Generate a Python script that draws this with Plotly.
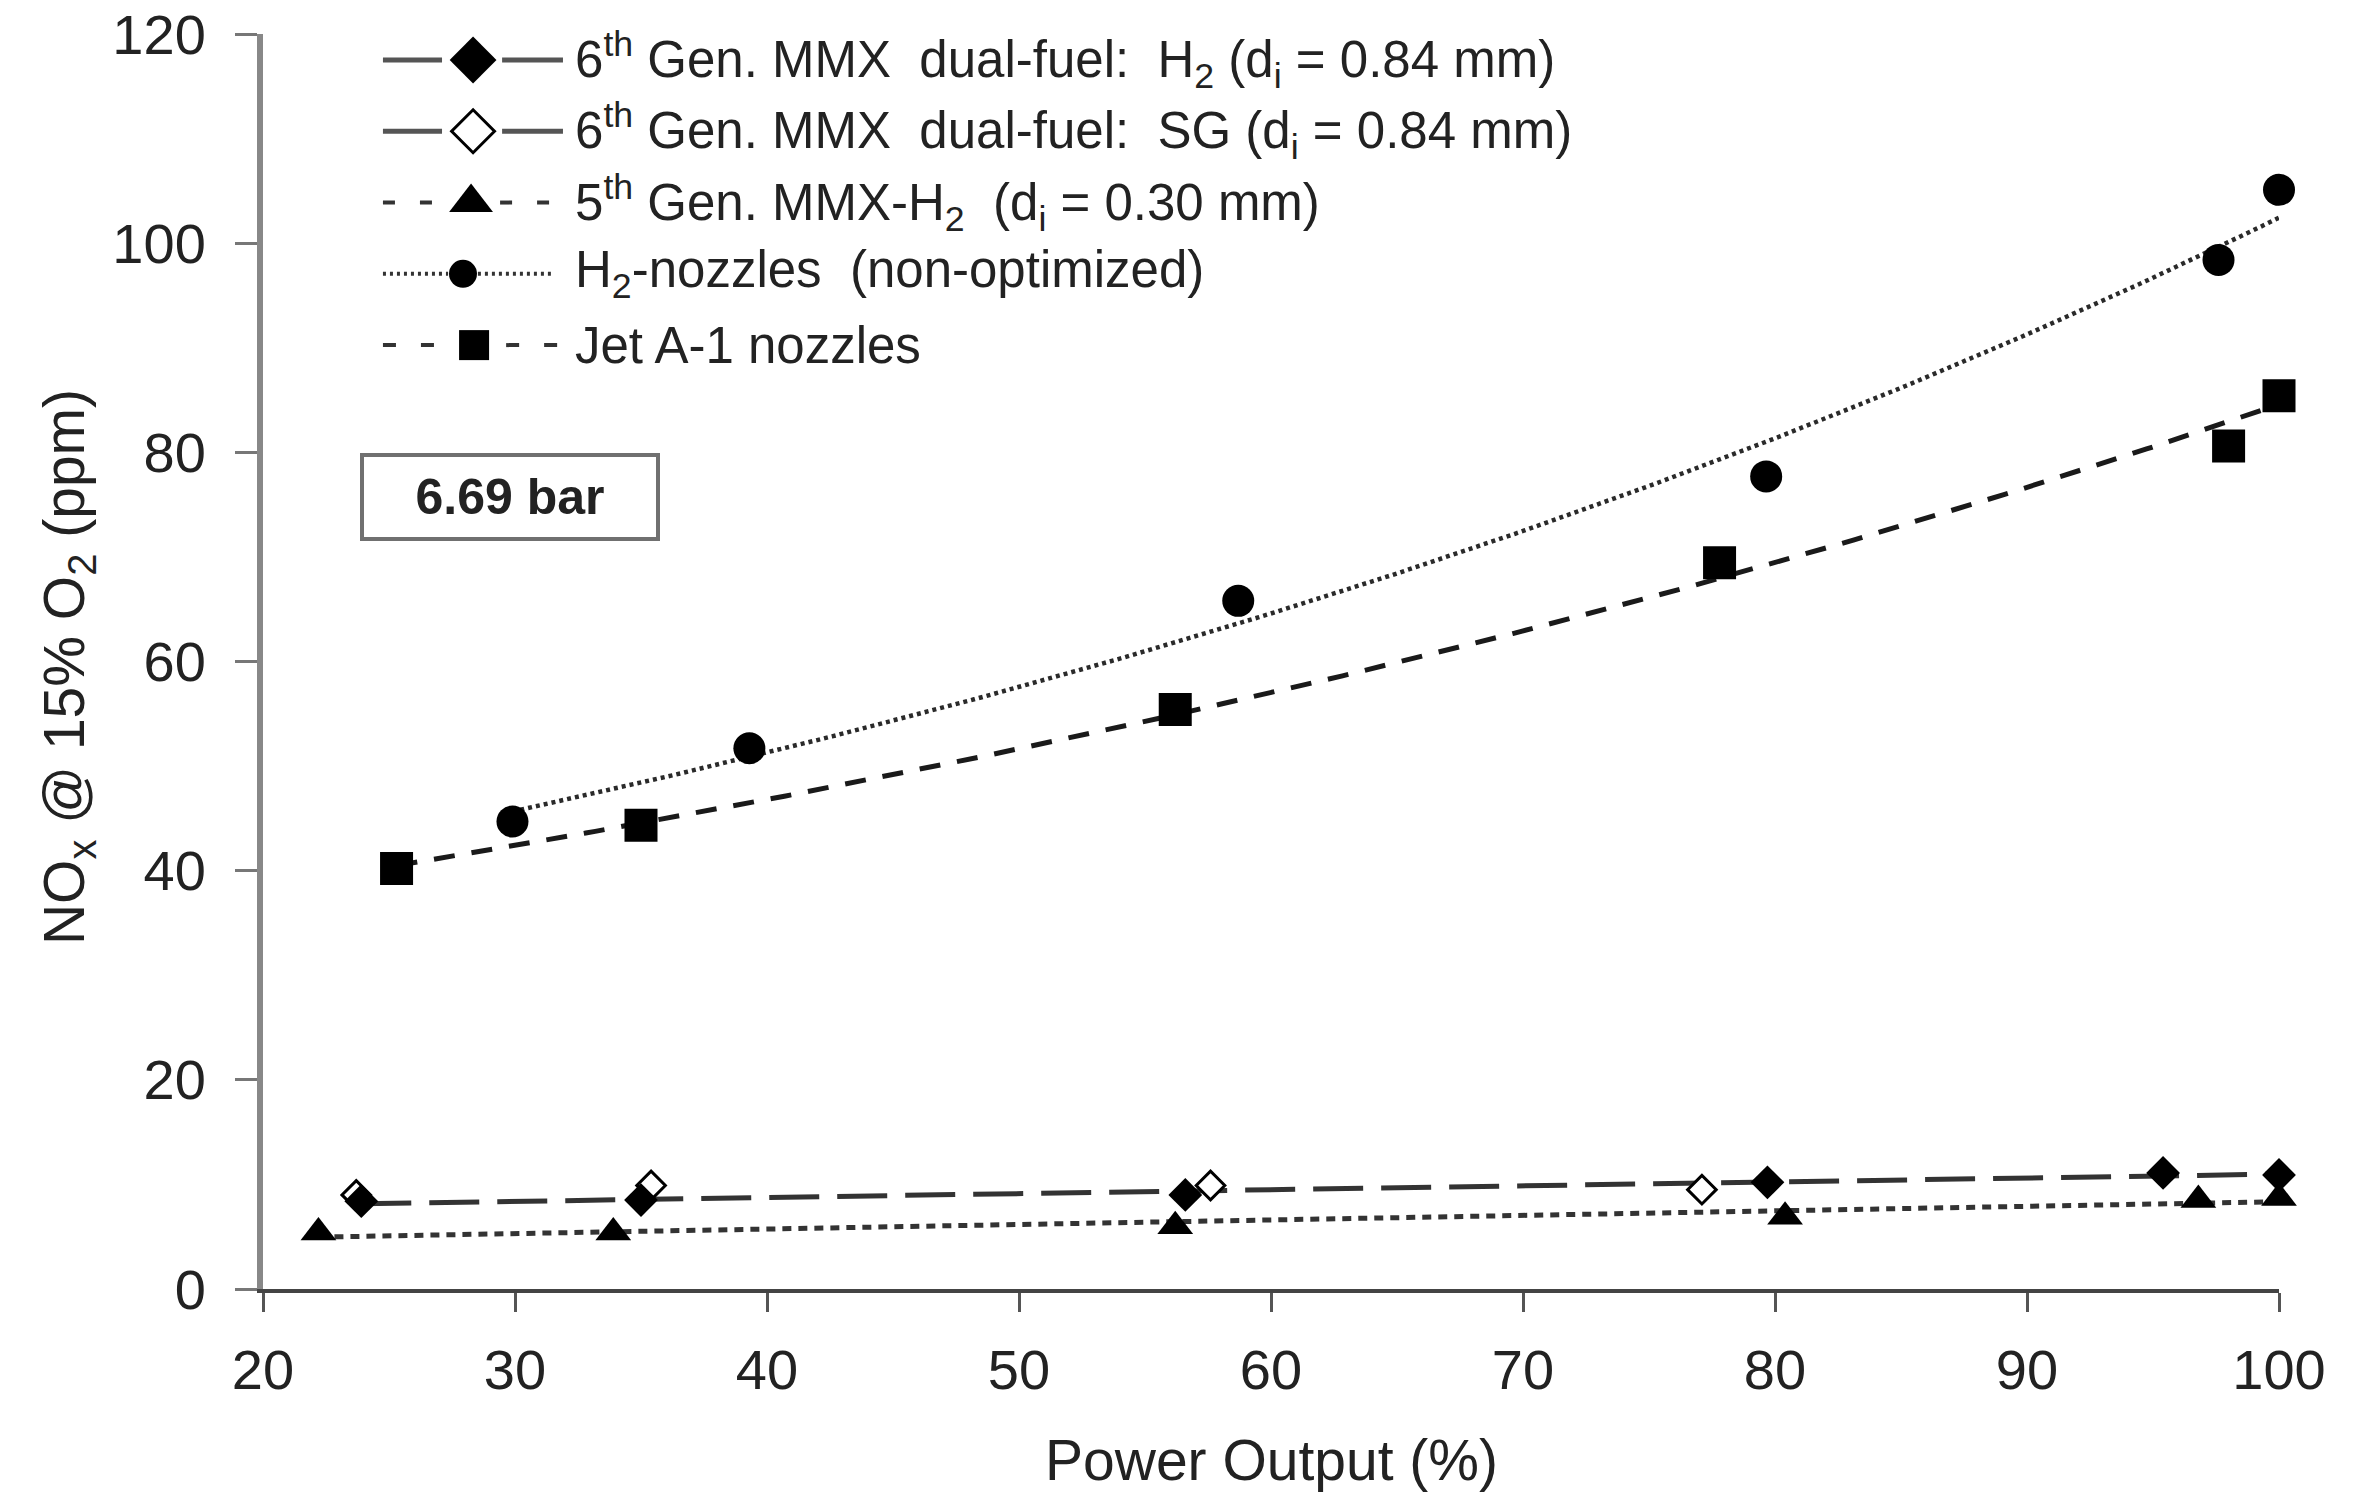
import numpy as np
import plotly.graph_objects as go

# ---- measured data: NOx @ 15% O2 (ppm) vs power output (%) ----
h2_dual_x = [23.9, 35.0, 56.6, 79.7, 95.4, 100.0]
h2_dual_y = [8.4, 8.5, 9.0, 10.2, 11.1, 10.9]

sg_dual_x = [23.7, 35.4, 57.6, 77.1]
sg_dual_y = [9.0, 9.9, 9.9, 9.5]

gen5_x = [22.2, 33.9, 56.2, 80.4, 96.8, 100.0]
gen5_y = [5.4, 5.4, 6.0, 6.9, 8.5, 8.7]

h2_nozzle_x = [29.9, 39.3, 58.7, 79.65, 97.6, 100.0]
h2_nozzle_y = [44.7, 51.7, 65.8, 77.7, 98.4, 105.1]

jet_x = [25.3, 35.0, 56.2, 77.8, 98.0, 100.0]
jet_y = [40.2, 44.35, 55.4, 69.45, 80.6, 85.4]

x_ticks = [20, 30, 40, 50, 60, 70, 80, 90, 100]
y_ticks = [0, 20, 40, 60, 80, 100, 120]

legend_labels = [
    "6<sup>th</sup> Gen. MMX\u00a0 dual-fuel:\u00a0 H<sub>2</sub> (d<sub>i</sub> = 0.84 mm)",
    "6<sup>th</sup> Gen. MMX\u00a0 dual-fuel:\u00a0 SG (d<sub>i</sub> = 0.84 mm)",
    "5<sup>th</sup> Gen. MMX-H<sub>2</sub>\u00a0 (d<sub>i</sub> = 0.30 mm)",
    "H<sub>2</sub>-nozzles\u00a0 (non-optimized)",
    "Jet A-1 nozzles",
]

FONT = "Liberation Sans, Arial, sans-serif"
INK = "#1a1a1a"


def exp_trend(x, y, n=200):
    """Least-squares exponential trendline y = a*exp(b*x)."""
    b, ln_a = np.polyfit(np.asarray(x), np.log(np.asarray(y)), 1)
    xs = np.linspace(min(x), max(x), n)
    return xs, np.exp(ln_a + b * xs)


def lin_trend(x, y):
    m, c = np.polyfit(np.asarray(x), np.asarray(y), 1)
    xs = np.array([min(x), max(x)])
    return xs, m * xs + c


fig = go.Figure()

# ---- trendlines ----
tx, ty = exp_trend(h2_nozzle_x, h2_nozzle_y)
fig.add_trace(go.Scatter(x=tx, y=ty, mode="lines", showlegend=False,
                         line=dict(color="#2a2a2a", width=4.5, dash="4px,4px")))
tx, ty = exp_trend(jet_x, jet_y)
fig.add_trace(go.Scatter(x=tx, y=ty, mode="lines", showlegend=False,
                         line=dict(color=INK, width=5, dash="21px,17px")))
tx, ty = lin_trend(h2_dual_x, h2_dual_y)
fig.add_trace(go.Scatter(x=tx, y=ty, mode="lines", showlegend=False,
                         line=dict(color="#333", width=5, dash="50px,18px")))
tx, ty = lin_trend(gen5_x, gen5_y)
fig.add_trace(go.Scatter(x=tx, y=ty, mode="lines", showlegend=False,
                         line=dict(color="#333", width=5, dash="9px,7px")))

# ---- measured points (SG drawn first so the H2 diamonds sit on top) ----
fig.add_trace(go.Scatter(x=gen5_x, y=gen5_y, mode="markers", showlegend=False,
                         cliponaxis=False,
                         marker=dict(symbol="triangle-up", size=31, color="black")))
fig.add_trace(go.Scatter(x=sg_dual_x, y=sg_dual_y, mode="markers", showlegend=False,
                         cliponaxis=False,
                         marker=dict(symbol="diamond", size=22, color="white",
                                     line=dict(color="black", width=3))))
fig.add_trace(go.Scatter(x=h2_dual_x, y=h2_dual_y, mode="markers", showlegend=False,
                         cliponaxis=False,
                         marker=dict(symbol="diamond", size=26, color="black")))
fig.add_trace(go.Scatter(x=jet_x, y=jet_y, mode="markers", showlegend=False,
                         cliponaxis=False,
                         marker=dict(symbol="square", size=33, color="black")))
fig.add_trace(go.Scatter(x=h2_nozzle_x, y=h2_nozzle_y, mode="markers", showlegend=False,
                         cliponaxis=False,
                         marker=dict(symbol="circle", size=32, color="black")))

# ---- hand-built legend on an overlay axis spanning the plot area (0..1) ----
leg_styles = [
    dict(line=dict(color="#555", width=5), seg=(0.0595, 0.0888, 0.1186, 0.1488),
         marker=dict(symbol="diamond", size=36, color="black"), mx=0.1042),
    dict(line=dict(color="#555", width=5), seg=(0.0595, 0.0888, 0.1186, 0.1488),
         marker=dict(symbol="diamond", size=33, color="white",
                     line=dict(color="black", width=3)), mx=0.1042),
    dict(line=dict(color="#333", width=4, dash="12px,25px"), seg=(0.0595, 0.0913, 0.1176, 0.1488),
         marker=dict(symbol="triangle-up", size=38, color="black"), mx=0.1032),
    dict(line=dict(color="#333", width=4, dash="3px,4px"), seg=(0.0595, 0.0918, 0.1066, 0.1428),
         marker=dict(symbol="circle", size=28, color="black"), mx=0.0992),
    dict(line=dict(color="#333", width=4, dash="13px,25px"), seg=(0.0595, 0.0913, 0.1206, 0.1488),
         marker=dict(symbol="square", size=30, color="black"), mx=0.1047),
]
row0 = 0.9793
row_step = 0.0568
text_x = 0.1540

for i, (lab, st) in enumerate(zip(legend_labels, leg_styles)):
    yy = row0 - i * row_step
    a, b, c, d = st["seg"]
    fig.add_trace(go.Scatter(x=[a, b, None, c, d], y=[yy, yy, None, yy, yy],
                             mode="lines", line=st["line"], showlegend=False,
                             xaxis="x2", yaxis="y2", connectgaps=False))
    fig.add_trace(go.Scatter(x=[st["mx"]], y=[yy], mode="markers",
                             marker=st["marker"], showlegend=False,
                             xaxis="x2", yaxis="y2", cliponaxis=False))
    fig.add_annotation(x=text_x, y=yy, xref="x2", yref="y2", text=lab,
                       showarrow=False, xanchor="left", yanchor="middle",
                       font=dict(family=FONT, size=51, color="#222"))

# ---- pressure label box ----
fig.add_annotation(x=0.1225, y=0.631, xref="paper", yref="paper",
                   text="<b>6.69 bar</b>", showarrow=False,
                   xanchor="center", yanchor="middle",
                   width=292, height=80, borderpad=0,
                   bordercolor="#707070", borderwidth=4, bgcolor="white",
                   font=dict(family=FONT, size=50, color="#222"))

# ---- axis titles ----
fig.add_annotation(x=0.5, y=-0.1363, xref="paper", yref="paper",
                   text="Power Output (%)", showarrow=False,
                   xanchor="center", yanchor="middle",
                   font=dict(family=FONT, size=57, color="#222"))
fig.add_annotation(x=-0.0967, y=0.4956, xref="paper", yref="paper",
                   text="NO<sub>x</sub> @ 15% O<sub>2</sub> (ppm)", showarrow=False,
                   textangle=-90, xanchor="center", yanchor="middle",
                   font=dict(family=FONT, size=57, color="#222"))

fig.update_layout(
    width=2377, height=1493,
    margin=dict(l=263, r=98, t=34, b=204),
    paper_bgcolor="white", plot_bgcolor="white",
    font=dict(family=FONT, color="#222"),
    xaxis=dict(range=[20, 100], tickvals=x_ticks, ticks="outside", ticklen=19,
               tickwidth=3, tickcolor="#555", showline=True, linecolor="#444",
               linewidth=4, showgrid=False, zeroline=False, automargin=False,
               ticklabelstandoff=10, ticklabeloverflow="allow",
               tickfont=dict(family=FONT, size=56, color="#222")),
    yaxis=dict(range=[0, 120], tickvals=y_ticks, ticks="outside", ticklen=22,
               tickwidth=3, tickcolor="#777", showline=True, linecolor="#888",
               linewidth=6, showgrid=False, zeroline=False, automargin=False,
               ticklabelstandoff=18, ticklabeloverflow="allow",
               tickfont=dict(family=FONT, size=56, color="#222")),
    xaxis2=dict(overlaying="x", range=[0, 1], visible=False, fixedrange=True),
    yaxis2=dict(overlaying="y", range=[0, 1], visible=False, fixedrange=True),
    showlegend=False,
)

fig.write_html("out.html")
